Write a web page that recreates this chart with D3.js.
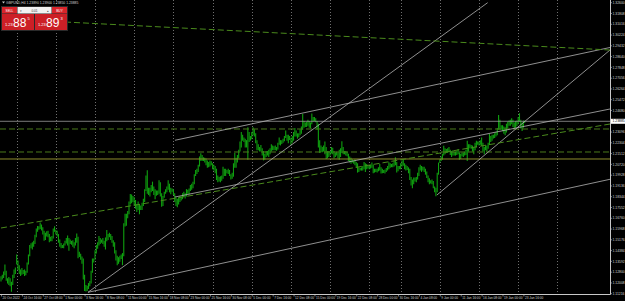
<!DOCTYPE html>
<html>
<head>
<meta charset="utf-8">
<script src="https://cdn.jsdelivr.net/npm/d3@7"></script>
<style>
  body { margin: 0; background: #000; overflow: hidden; }
  text { font-family: "Liberation Sans", "DejaVu Sans", sans-serif; }
</style>
</head>
<body>
<div id="chart"></div>
<script>
"use strict"

// GBPUSD H4, one row per trading day (bars 00,04,08,12,16,20), price in pips above 1.0000
const highs = [
  [1250,1260,1285,1337,1290,1235],[1245,1235,1210,1260,1300,1315],[1410,1365,1330,1300,1310,1295],
  [1300,1290,1350,1410,1480,1493],[1500,1510,1555,1600,1620,1618],[1645,1630,1610,1585,1570,1580],
  [1585,1560,1540,1545,1600,1617],[1592,1585,1560,1520,1495,1480],[1490,1510,1530,1550,1530,1520],
  [1510,1515,1500,1530,1564,1540],[1430,1415,1395,1380,1260,1185],[1180,1200,1215,1290,1380,1380],
  [1440,1480,1500,1545,1530,1520],[1530,1510,1535,1590,1560,1570],[1560,1545,1515,1500,1440,1400],
  [1390,1400,1410,1420,1640,1710],[1710,1730,1800,1855,1850,1840],[1830,1810,1780,1800,1780,1770],
  [1790,1820,1890,1990,2028,1900],[1900,1920,1945,1910,1890,1880],[1880,1955,1940,1860,1840,1870],
  [1890,1910,1955,1930,1900,1895],[1890,1860,1830,1820,1830,1840],[1835,1860,1870,1860,1890,1885],
  [1895,1920,1930,1945,2000,2030],[2040,2070,2130,2153,2140,2125],[2120,2115,2100,2090,2100,2095],
  [2080,2070,2060,2040,1990,1980],[1985,1990,2055,2040,2040,2030],[2040,2030,2000,2010,2080,2155],
  [2120,2140,2180,2240,2310,2290],[2270,2260,2250,2345,2310,2280],[2310,2345,2330,2300,2250,2220],
  [2200,2215,2190,2170,2150,2170],[2170,2180,2190,2220,2210,2205],[2210,2200,2230,2270,2250,2250],
  [2260,2280,2320,2290,2290,2280],[2265,2280,2310,2340,2320,2300],[2300,2330,2350,2443,2390,2380],
  [2385,2400,2390,2380,2446,2420],[2420,2410,2390,2370,2250,2210],[2200,2210,2240,2200,2170,2170],
  [2170,2200,2195,2170,2160,2165],[2160,2180,2190,2242,2200,2170],[2170,2165,2150,2130,2120,2110],
  [2100,2110,2090,2080,2050,2045],[2050,2060,2090,2080,2075,2065],[2060,2070,2085,2070,2040,2040],
  [2040,2050,2075,2050,2040,2030],[2035,2045,2060,2087,2080,2075],[2080,2100,2125,2090,2060,2060],
  [2080,2100,2110,2080,2070,2060],[2050,2040,1980,1960,1975,1975],[1980,2010,2050,2070,2060,2055],
  [2055,2040,2020,1990,1970,1955],[1960,1950,1910,1900,2010,2085],[2110,2130,2150,2208,2190,2185],
  [2190,2200,2180,2170,2175,2165],[2165,2170,2185,2160,2150,2160],[2160,2165,2180,2245,2220,2220],
  [2215,2210,2200,2230,2245,2240],[2240,2250,2270,2230,2200,2210],[2210,2230,2295,2280,2290,2290],
  [2300,2310,2340,2435,2400,2360],[2360,2350,2345,2370,2385,2395],[2400,2410,2400,2380,2390,2395],
  [2420,2448,2400,2380,2395,2392]]

const lows = [
  [1215,1230,1240,1260,1220,1200],[1190,1180,1140,1190,1240,1270],[1340,1300,1270,1255,1265,1270],
  [1255,1260,1280,1340,1400,1460],[1450,1470,1490,1540,1580,1595],[1600,1590,1560,1515,1520,1545],
  [1540,1504,1510,1510,1530,1580],[1560,1545,1500,1470,1460,1462],[1460,1480,1495,1480,1440,1490],
  [1485,1470,1460,1480,1500,1385],[1395,1375,1345,1230,1145,1142],[1145,1160,1180,1200,1280,1355],
  [1375,1420,1455,1480,1490,1500],[1490,1470,1450,1510,1520,1540],[1520,1500,1470,1420,1370,1335],
  [1345,1360,1380,1335,1400,1620],[1625,1680,1710,1780,1790,1800],[1770,1750,1725,1740,1710,1740],
  [1740,1770,1800,1880,1860,1850],[1840,1870,1880,1850,1820,1845],[1850,1860,1840,1765,1770,1830],
  [1860,1870,1890,1870,1856,1875],[1850,1800,1770,1760,1780,1800],[1810,1820,1835,1825,1840,1860],
  [1855,1880,1890,1900,1930,1990],[2005,2020,2060,2100,2100,2100],[2090,2070,2050,2055,2060,2070],
  [2040,2030,2010,1960,1945,1950],[1945,1955,1970,1990,1990,2010],[2005,1990,1965,1970,1985,2050],
  [2050,2090,2120,2170,2200,2250],[2240,2200,2200,2110,2240,2250],[2260,2290,2280,2230,2180,2180],
  [2170,2170,2140,2105,2110,2130],[2140,2130,2150,2170,2180,2180],[2180,2175,2185,2220,2215,2225],
  [2235,2245,2270,2250,2230,2255],[2220,2235,2250,2280,2280,2265],[2275,2290,2300,2330,2345,2350],
  [2350,2360,2345,2340,2370,2390],[2395,2385,2330,2200,2160,2165],[2165,2170,2150,2115,2120,2130],
  [2140,2155,2150,2120,2130,2140],[2120,2110,2130,2160,2150,2150],[2140,2135,2100,2090,2080,2090],
  [2080,2070,2050,2015,2020,2030],[2030,2030,2040,2020,2040,2045],[2040,2045,2050,2010,2015,2020],
  [2015,2025,2030,2008,2010,2012],[2008,2020,2030,2040,2050,2055],[2055,2060,2070,2015,2025,2040],
  [2040,2060,2065,2040,2030,2035],[2010,1960,1920,1900,1930,1950],[1945,1965,1990,2030,2020,2030],
  [2020,2000,1975,1945,1930,1935],[1930,1900,1870,1841,1870,2000],[2085,2100,2110,2140,2150,2160],
  [2160,2170,2145,2130,2140,2140],[2140,2145,2150,2110,2115,2135],[2130,2140,2145,2100,2170,2195],
  [2190,2170,2150,2180,2200,2220],[2215,2220,2210,2170,2150,2180],[2170,2190,2220,2240,2250,2265],
  [2270,2280,2290,2330,2330,2330],[2320,2300,2290,2310,2340,2360],[2360,2370,2350,2335,2345,2355],
  [2370,2390,2340,2320,2345,2380]]

// time axis: one label every 16 bars starting at bar 0
const xLabels = ["20 Oct 2022","24 Oct 16:00","27 Oct 08:00","1 Nov 00:00","3 Nov 16:00","8 Nov 08:00","11 Nov 00:00",
  "15 Nov 16:00","18 Nov 08:00","23 Nov 00:00","25 Nov 16:00","30 Nov 08:00","5 Dec 00:00","7 Dec 16:00","12 Dec 08:00",
  "15 Dec 00:00","19 Dec 16:00","22 Dec 08:00","28 Dec 00:00","30 Dec 16:00","4 Jan 08:00","9 Jan 00:00","11 Jan 16:00",
  "16 Jan 08:00","19 Jan 00:00","23 Jan 16:00"]

// weekly separators (bar index of each Monday)
const gridBars = [12,42,72,102,132,162,192,222,252,282,306,336,366,396,426]

// price axis labels, top to bottom
const yLabels = [1.32600,1.31808,1.31016,1.30224,1.29432,1.28640,1.27848,1.27056,1.26264,1.25472,1.24680,1.23888,
  1.23096,1.22304,1.21512,1.20720,1.19928,1.19136,1.18344,1.17552,1.16760,1.15968,1.15176,1.14384,1.13592,1.12800,
  1.12008,1.11216]

const bid = 1.23885
// horizontal objects
const hLevels = [{p:1.23319, kind:"dash"}, {p:1.21629, kind:"dash"}, {p:1.21115, kind:"olive"}]
// trend lines: [bar1, price1, bar2, price2]
const trendLines = [
  {pts:[66.6,1.11318,372.6,1.326], kind:"grey"},
  {pts:[66.6,1.11318,466.3,1.19623], kind:"grey"},
  {pts:[133.2,1.18322,466.3,1.24788], kind:"grey"},
  {pts:[133.2,1.22489,466.3,1.29308], kind:"grey"},
  {pts:[333.8,1.18469,466.3,1.29124], kind:"grey"},
  {pts:[0,1.16044,466.3,1.23686], kind:"dash"},
  {pts:[49,1.31182,466.3,1.29124], kind:"dash"}
]

const width = 625, height = 301
const plotR = 610, plotB = 294

const svg = d3.select("#chart").append("svg")
  .attr("width", width).attr("height", height)
  .style("background", "#000")

const x = d3.scaleLinear().domain([0, 466.3]).range([1, plotR])
const y = d3.scaleLinear().domain([1.11216, 1.32600]).range([293.7, 2.7])
const pip = v => 1 + v / 10000

svg.append("clipPath").attr("id", "plot")
  .append("rect").attr("width", plotR).attr("height", plotB)

const plot = svg.append("g").attr("clip-path", "url(#plot)")

// vertical grid
plot.selectAll(".grid").data(gridBars).enter().append("line")
  .attr("x1", d => Math.round(x(d)) + 0.5).attr("x2", d => Math.round(x(d)) + 0.5)
  .attr("y1", 0).attr("y2", plotB)
  .attr("stroke", "#8c8c8c").attr("stroke-width", 0.8).attr("stroke-dasharray", "1,2")

// bars
const bars = []
highs.forEach((row, di) => row.forEach((h, k) => bars.push({i: di * 6 + k, h: pip(h), l: pip(lows[di][k])})))
plot.selectAll(".bar").data(bars).enter().append("line")
  .attr("x1", d => x(d.i)).attr("x2", d => x(d.i))
  .attr("y1", d => y(d.h)).attr("y2", d => y(d.l) + 0.5)
  .attr("stroke", "#0fa00f").attr("stroke-width", 1.1)

// horizontal levels
plot.selectAll(".lvl").data(hLevels).enter().append("line")
  .attr("x1", 0).attr("x2", plotR)
  .attr("y1", d => y(d.p)).attr("y2", d => y(d.p))
  .attr("stroke", d => d.kind == "olive" ? "#8c8c2c" : "#4a7a1c")
  .attr("stroke-width", 1)
  .attr("stroke-dasharray", d => d.kind == "dash" ? "6,3" : null)

// bid line
plot.append("line").attr("x1", 0).attr("x2", plotR)
  .attr("y1", y(bid)).attr("y2", y(bid))
  .attr("stroke", "#9a9a9a").attr("stroke-width", 0.8)

// trend lines
plot.selectAll(".tl").data(trendLines).enter().append("line")
  .attr("x1", d => x(d.pts[0])).attr("y1", d => y(d.pts[1]))
  .attr("x2", d => x(d.pts[2])).attr("y2", d => y(d.pts[3]))
  .attr("stroke", d => d.kind == "grey" ? "#b4b4b4" : "#4a8a1c")
  .attr("stroke-width", d => d.kind == "grey" ? 0.8 : 1)
  .attr("stroke-dasharray", d => d.kind == "dash" ? "6,3" : null)

// axes frame
svg.append("line").attr("x1", plotR + 0.5).attr("x2", plotR + 0.5).attr("y1", 0).attr("y2", plotB + 0.5)
  .attr("stroke", "#c8c8c8").attr("stroke-width", 1)
svg.append("line").attr("x1", 0).attr("x2", plotR + 0.5).attr("y1", plotB + 0.5).attr("y2", plotB + 0.5)
  .attr("stroke", "#c8c8c8").attr("stroke-width", 1)

// price labels
const yl = svg.append("g")
yl.selectAll("line").data(yLabels).enter().append("line")
  .attr("x1", plotR).attr("x2", plotR + 2)
  .attr("y1", d => y(d)).attr("y2", d => y(d))
  .attr("stroke", "#c8c8c8").attr("stroke-width", 0.6)
yl.selectAll("text").data(yLabels).enter().append("text")
  .attr("x", plotR + 2.5).attr("y", d => y(d) + 1.2)
  .attr("fill", "#d0d0d0").style("font-size", "3.4px")
  .text(d => d.toFixed(5))

// bid label box
svg.append("rect").attr("x", plotR + 1).attr("y", y(bid) - 2.5).attr("width", 14).attr("height", 5)
  .attr("fill", "#ffffff")
svg.append("text").attr("x", plotR + 2.5).attr("y", y(bid) + 1.2)
  .attr("fill", "#000").style("font-size", "3.4px").text(bid.toFixed(5))

// time labels
const xl = svg.append("g")
xl.selectAll("line").data(xLabels).enter().append("line")
  .attr("x1", (d, i) => x(i * 16) + 0.5).attr("x2", (d, i) => x(i * 16) + 0.5)
  .attr("y1", plotB).attr("y2", plotB + 2.5)
  .attr("stroke", "#c8c8c8").attr("stroke-width", 0.6)
xl.selectAll("text").data(xLabels).enter().append("text")
  .attr("x", (d, i) => x(i * 16) + 1.5).attr("y", 299)
  .attr("fill", "#d0d0d0").style("font-size", "3.2px")
  .text(d => d)

// title
svg.append("path").attr("d", "M2,1.5 L5,1.5 L3.5,3.5 Z").attr("fill", "#c8c8c8")
svg.append("text").attr("x", 6).attr("y", 4).attr("fill", "#d0d0d0").style("font-size", "3.4px")
  .text("GBPUSD,H4  1.23890 1.23900 1.23850 1.23885")

// one click trading panel
const panel = svg.append("g")
panel.append("rect").attr("x", 1).attr("y", 6).attr("width", 67).attr("height", 25).attr("fill", "#2a2a2a")
panel.append("rect").attr("x", 2).attr("y", 7).attr("width", 15).attr("height", 6.5).attr("fill", "#d9252b")
panel.append("rect").attr("x", 52).attr("y", 7).attr("width", 15).attr("height", 6.5).attr("fill", "#d9252b")
panel.append("rect").attr("x", 17.5).attr("y", 7).attr("width", 34).attr("height", 6.5).attr("fill", "#f2f2f2")
panel.append("text").attr("x", 9.5).attr("y", 11.5).attr("text-anchor", "middle").attr("fill", "#fff")
  .style("font-size", "3.2px").text("SELL")
panel.append("text").attr("x", 59.5).attr("y", 11.5).attr("text-anchor", "middle").attr("fill", "#fff")
  .style("font-size", "3.2px").text("BUY")
panel.append("text").attr("x", 34.5).attr("y", 11.5).attr("text-anchor", "middle").attr("fill", "#333")
  .style("font-size", "3.2px").text("0.01")
panel.append("text").attr("x", 20).attr("y", 11.5).attr("fill", "#555").style("font-size", "3.2px").text("\u25be")
panel.append("text").attr("x", 47).attr("y", 11.5).attr("fill", "#555").style("font-size", "3.2px").text("\u25b4")

const quotes = [{x: 2, big: "88", sup: "5"}, {x: 35, big: "89", sup: "3"}]
quotes.forEach(q => {
  panel.append("rect").attr("x", q.x).attr("y", 14).attr("width", 32).attr("height", 16).attr("fill", "#cc1f26")
  panel.append("text").attr("x", q.x + 3).attr("y", 26).attr("fill", "#fff").style("font-size", "4px").text("1.23")
  panel.append("text").attr("x", q.x + 11).attr("y", 27).attr("fill", "#fff").style("font-size", "12px").text(q.big)
  panel.append("text").attr("x", q.x + 25.5).attr("y", 19.5).attr("fill", "#fff").style("font-size", "4px").text(q.sup)
})
</script>
</body>
</html>
